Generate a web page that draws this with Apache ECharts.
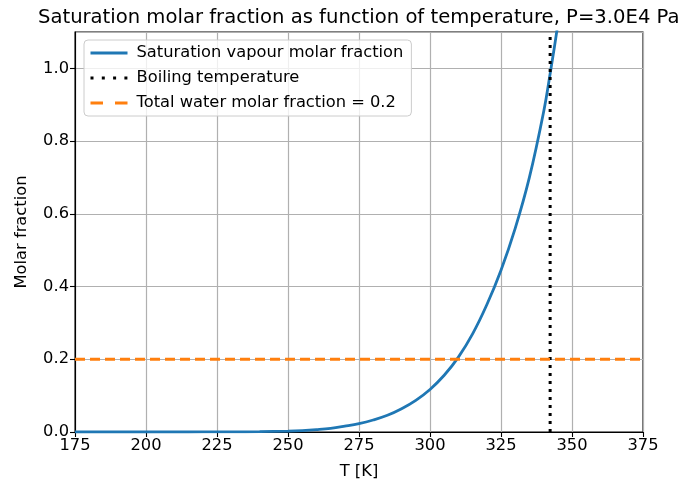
<!DOCTYPE html>
<html>
<head>
<meta charset="utf-8">
<script src="https://cdn.jsdelivr.net/npm/echarts@6/dist/echarts.min.js"></script>
<style>html,body{margin:0;padding:0;background:#fff}#c{width:683px;height:486px}</style>
</head>
<body>
<div id="c"></div>
<script>
const temps = [175, 190, 200, 210, 220, 230, 240, 250, 255, 260, 265, 270, 275, 280, 285, 290, 295, 300, 305, 310, 315, 320, 325, 330, 335, 340, 342.5, 345, 347];
const satFraction = [0.000001, 0.000005, 0.00002, 0.00005, 0.0001, 0.0003, 0.0009, 0.0025, 0.004, 0.0065, 0.010, 0.016, 0.023, 0.033, 0.046, 0.064, 0.087, 0.117, 0.156, 0.206, 0.270, 0.350, 0.445, 0.560, 0.700, 0.880, 0.995, 1.12, 1.23];
const boilingT = 342.3;
const totalFraction = 0.2;
const xRange = [175, 375];
const yRange = [0, 1.1];
const seriesNames = ['Saturation vapour molar fraction', 'Boiling temperature', 'Total water molar fraction = 0.2'];
const titleText = 'Saturation molar fraction as function of temperature, P=3.0E4 Pa';

const font = 'DejaVu Sans';
const fs = 16.3;
const chart = echarts.init(document.getElementById('c'), null, {renderer: 'canvas'});
chart.setOption({
  animation: false,
  backgroundColor: '#fff',
  title: {
    text: titleText, left: 38, top: 3, padding: [5, 0, 5, 0],
    textStyle: {fontFamily: font, fontSize: 19.6, fontWeight: 'normal', color: '#000'}
  },
  grid: {left: 75, right: 40, top: 32, bottom: 54, show: true, borderColor: '#000', borderWidth: 1.1, backgroundColor: 'transparent'},
  legend: {
    left: 84, top: 40, orient: 'vertical',
    itemWidth: 37, itemHeight: 14, itemGap: 9,
    padding: [5, 8, 5, 5],
    backgroundColor: 'rgba(255,255,255,0.8)', borderColor: '#cccccc', borderWidth: 1, borderRadius: 4,
    textStyle: {fontFamily: font, fontSize: fs, color: '#000', padding: [0, 0, 0, 4]},
    itemStyle: {opacity: 0, borderWidth: 0},
    lineStyle: {width: 2.8},
    data: [
      {name: seriesNames[0]},
      {name: seriesNames[1], lineStyle: {width: 3, type: [3, 8.3]}},
      {name: seriesNames[2], lineStyle: {width: 2.8, type: [12.5, 12]}}
    ]
  },
  xAxis: {
    type: 'value', min: xRange[0], max: xRange[1], interval: 25,
    name: 'T [K]', nameLocation: 'middle', nameGap: 32,
    nameTextStyle: {fontFamily: font, fontSize: fs, color: '#000'},
    axisLine: {onZero: false, lineStyle: {color: '#000', width: 1.1}},
    axisTick: {show: true, length: 5, lineStyle: {color: '#000', width: 1.1}},
    axisLabel: {fontFamily: font, fontSize: fs, color: '#000', margin: 6},
    splitLine: {show: true, lineStyle: {color: '#b0b0b0', width: 1.2}}
  },
  yAxis: {
    type: 'value', min: yRange[0], max: yRange[1], interval: 0.2,
    name: 'Molar fraction', nameLocation: 'middle', nameGap: 45, nameRotate: 90,
    nameTextStyle: {fontFamily: font, fontSize: fs, color: '#000'},
    axisLine: {show: true, lineStyle: {color: '#000', width: 1.1}},
    axisTick: {show: true, length: 5, lineStyle: {color: '#000', width: 1.1}},
    axisLabel: {fontFamily: font, fontSize: fs, color: '#000', margin: 6, showMaxLabel: false,
      formatter: v => v.toFixed(1)},
    splitLine: {show: true, lineStyle: {color: '#b0b0b0', width: 1.2}}
  },
  series: [
    {
      name: seriesNames[0], type: 'line', showSymbol: false, symbol: 'none', smooth: 0.4,
      data: temps.map((t, i) => [t, satFraction[i]]),
      lineStyle: {color: '#1f77b4', width: 2.8}, itemStyle: {color: '#1f77b4'}, z: 3
    },
    {
      name: seriesNames[1], type: 'line', showSymbol: false, symbol: 'none',
      data: [[boilingT, yRange[0]], [boilingT, yRange[1]]],
      lineStyle: {color: '#000', width: 3, type: [3, 5]}, itemStyle: {color: '#000'}, z: 4
    },
    {
      name: seriesNames[2], type: 'line', showSymbol: false, symbol: 'none',
      data: [[xRange[0], totalFraction], [xRange[1], totalFraction]],
      lineStyle: {color: '#ff7f0e', width: 2.8, type: [10, 5]}, itemStyle: {color: '#ff7f0e'}, z: 5
    }
  ]
});
</script>
</body>
</html>
